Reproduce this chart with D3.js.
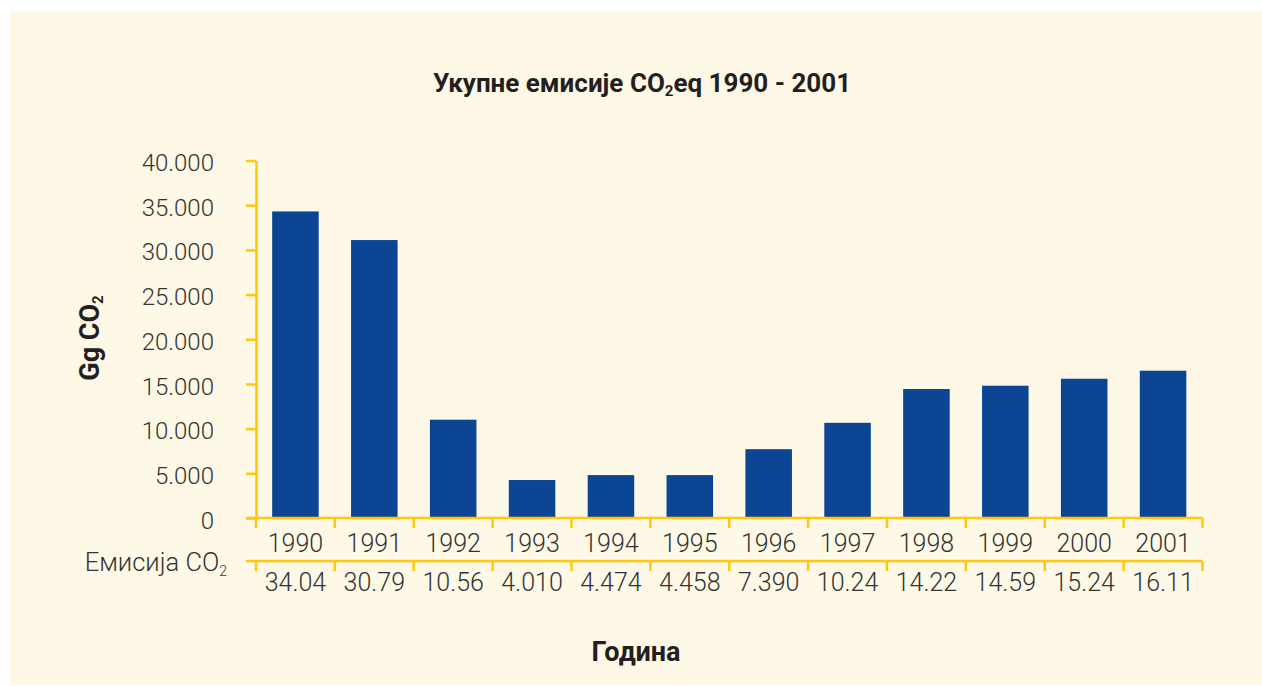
<!DOCTYPE html>
<html>
<head>
<meta charset="utf-8">
<script src="https://cdn.jsdelivr.net/npm/d3@7"></script>
<style>
  body { margin: 0; background: #fff; }
  svg { display: block; }
  .light { font-family: Roboto, sans-serif; font-weight: 300; fill: #333; }
  .bold { font-family: Roboto, sans-serif; font-weight: 700; fill: #231f20; }
</style>
</head>
<body>
<svg width="1262" height="686"></svg>
<script>
// years on the x axis
const years = ['1990', '1991', '1992', '1993', '1994', '1995', '1996', '1997', '1998', '1999', '2000', '2001'];
// bar heights, Gg CO2
const emissions = [34300, 31100, 11000, 4250, 4800, 4800, 7700, 10650, 14430, 14800, 15580, 16480];
// values printed in the table row under the axis
const tableLabels = ['34.04', '30.79', '10.56', '4.010', '4.474', '4.458', '7.390', '10.24', '14.22', '14.59', '15.24', '16.11'];
const yTicks = [0, 5000, 10000, 15000, 20000, 25000, 30000, 35000, 40000];

const axisColor = '#FFC80A';
const barColor = '#0B4594';

function drawChart(svgElement) {
  const svg = d3.select(svgElement);

  svg.append('rect')
    .attr('x', 10)
    .attr('y', 11)
    .attr('width', 1252)
    .attr('height', 674)
    .attr('fill', '#FEF8E7');

  const y = d3.scaleLinear().domain([0, 40000]).range([518, 160.5]);
  const x = d3.scaleBand()
    .domain(years)
    .range([256, 1202.5])
    .paddingInner(0.41)
    .paddingOuter(0.205);

  const fmt = d3.formatLocale({ decimal: ',', thousands: '.', grouping: [3], currency: ['', ''] }).format(',d');

  // bars
  svg.append('g')
    .selectAll('rect')
    .data(years)
    .enter()
    .append('rect')
    .attr('x', d => x(d))
    .attr('width', x.bandwidth())
    .attr('y', (d, i) => y(emissions[i]))
    .attr('height', (d, i) => y(0) - y(emissions[i]))
    .attr('fill', barColor);

  // y axis
  const yAxis = svg.append('g')
    .attr('transform', 'translate(256,0)')
    .call(d3.axisLeft(y).tickValues(yTicks).tickFormat(fmt).tickSize(10).tickSizeOuter(0).tickPadding(32));
  yAxis.select('.domain').attr('stroke', axisColor).attr('stroke-width', 2.5);
  yAxis.selectAll('.tick line').attr('stroke', axisColor).attr('stroke-width', 2.5);
  yAxis.selectAll('.tick text')
    .attr('class', 'light')
    .attr('dy', '0.42em')
    .style('font-size', '24px');

  // category boundaries for the table grid
  const bounds = d3.range(years.length + 1).map(i => x.range()[0] + i * x.step());

  function rowLine(yPos) {
    const g = svg.append('g');
    g.append('line')
      .attr('x1', bounds[0] - 10)
      .attr('x2', bounds[bounds.length - 1])
      .attr('y1', yPos)
      .attr('y2', yPos)
      .attr('stroke', axisColor)
      .attr('stroke-width', 2.5);
    g.selectAll('.sep')
      .data(bounds)
      .enter()
      .append('line')
      .attr('x1', d => d)
      .attr('x2', d => d)
      .attr('y1', yPos)
      .attr('y2', yPos + 10)
      .attr('stroke', axisColor)
      .attr('stroke-width', 2.5);
  }

  rowLine(y(0));
  rowLine(561);

  svg.append('g')
    .selectAll('text')
    .data(years)
    .enter()
    .append('text')
    .attr('class', 'light')
    .attr('x', d => x(d) + x.bandwidth() / 2)
    .attr('y', 551.5)
    .attr('text-anchor', 'middle')
    .style('font-size', '25px')
    .text(d => d);

  svg.append('g')
    .selectAll('text')
    .data(years)
    .enter()
    .append('text')
    .attr('class', 'light')
    .attr('x', d => x(d) + x.bandwidth() / 2)
    .attr('y', 590.5)
    .attr('text-anchor', 'middle')
    .style('font-size', '25px')
    .text((d, i) => tableLabels[i]);

  // row label
  const rowLabel = svg.append('text')
    .attr('class', 'light')
    .attr('x', 227)
    .attr('y', 570.5)
    .attr('text-anchor', 'end')
    .style('font-size', '25.5px');
  rowLabel.append('tspan').text('Емисија CO');
  rowLabel.append('tspan').attr('dy', 5).style('font-size', '14px').text('2');

  // title
  const title = svg.append('text')
    .attr('class', 'bold')
    .attr('x', 642)
    .attr('y', 91.5)
    .attr('text-anchor', 'middle')
    .style('font-size', '26px');
  title.append('tspan').text('Укупне емисије CO');
  title.append('tspan').attr('dy', 4).style('font-size', '15px').text('2');
  title.append('tspan').attr('dy', -4).text('eq 1990 - 2001');

  // y axis title
  const yTitle = svg.append('text')
    .attr('class', 'bold')
    .attr('transform', 'translate(99,338) rotate(-90)')
    .attr('text-anchor', 'middle')
    .style('font-size', '27px');
  yTitle.append('tspan').text('Gg CO');
  yTitle.append('tspan').attr('dy', 4).style('font-size', '15px').text('2');

  svg.append('text')
    .attr('class', 'bold')
    .attr('x', 636)
    .attr('y', 660.5)
    .attr('text-anchor', 'middle')
    .style('font-size', '27px')
    .text('Година');
}

window.addEventListener('load', () => {
  drawChart(document.querySelector('svg'));
});
</script>
</body>
</html>
